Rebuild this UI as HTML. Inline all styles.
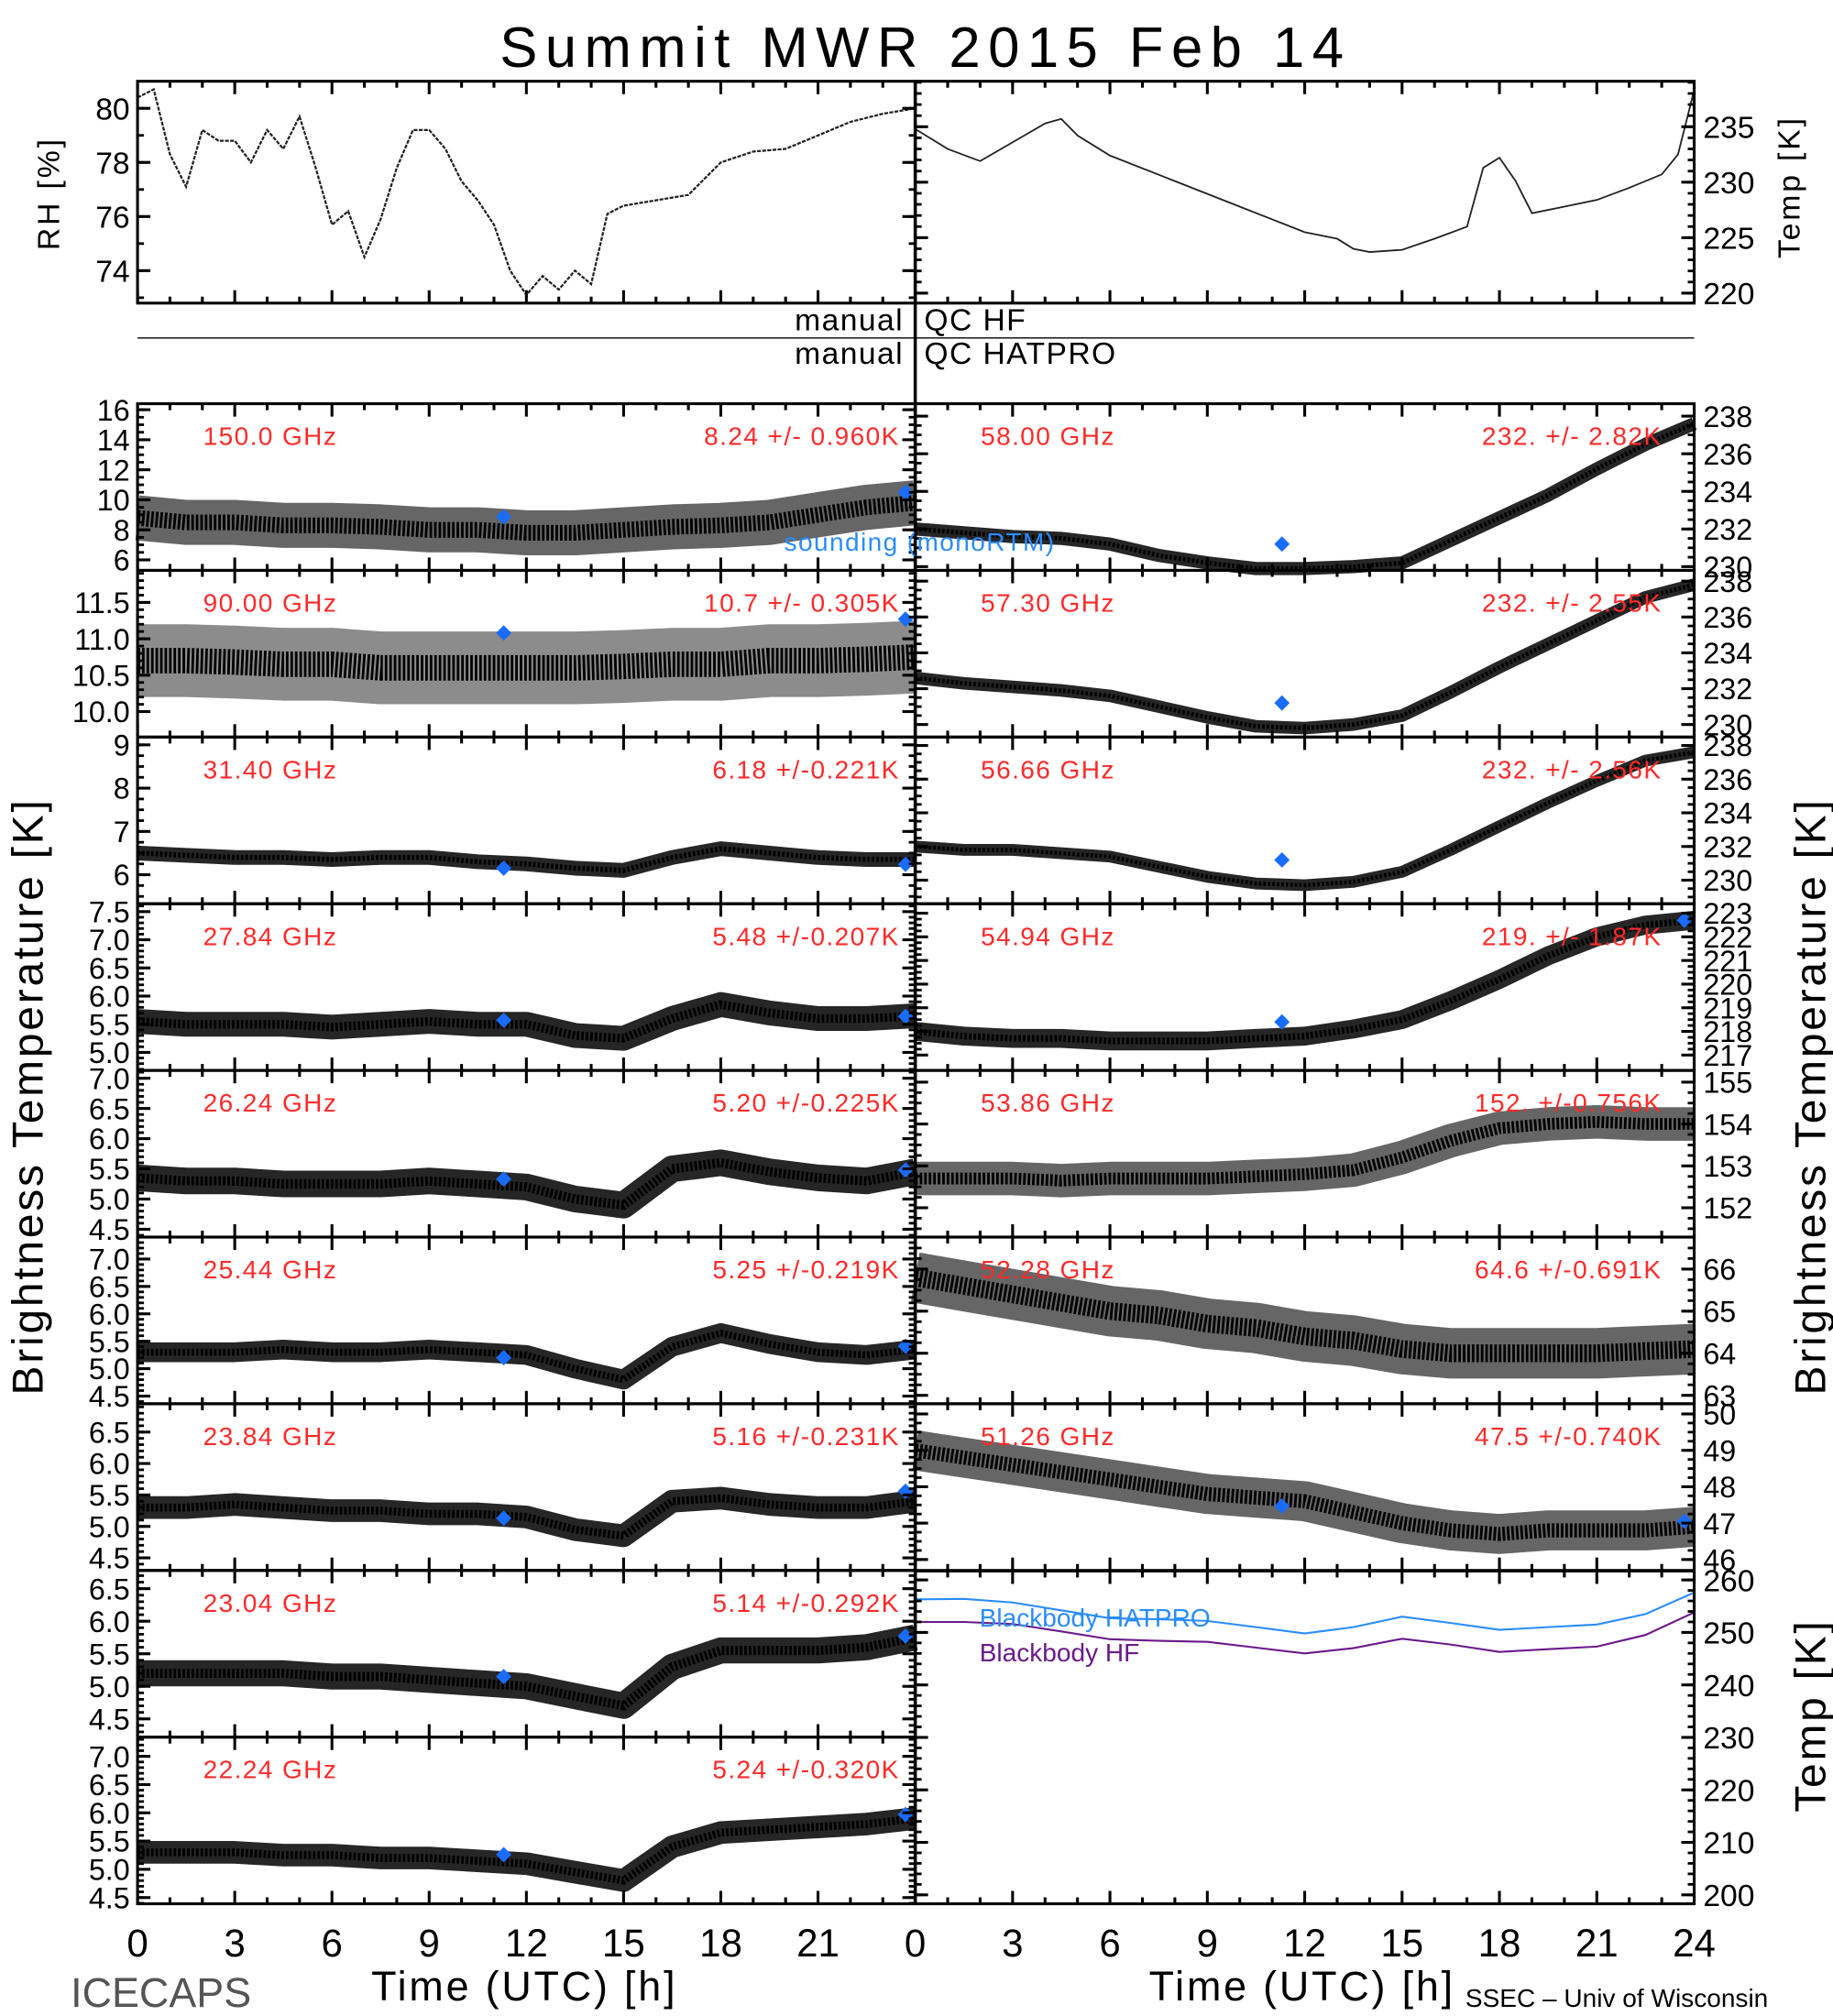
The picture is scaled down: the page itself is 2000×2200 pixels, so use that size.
<!DOCTYPE html>
<html><head><meta charset="utf-8">
<style>
html,body{margin:0;padding:0;background:#fff;}
svg{display:block;}
text{font-family:"Liberation Sans","DejaVu Sans",sans-serif;}
</style></head>
<body>
<svg id="chart" xmlns="http://www.w3.org/2000/svg" width="2000" height="2200" viewBox="0 0 1426 1563" preserveAspectRatio="none">
<rect x="0" y="0" width="1426" height="1563" fill="#fff"/>
<text x="720" y="52" font-size="44" text-anchor="middle" letter-spacing="6">Summit  MWR  2015  Feb  14</text>
<g id="g"></g>
</svg>
<script>
// ---------- data ----------
const hours = [0,1.5,3,4.5,6,7.5,9,10.5,12,13.5,15,16.5,18,19.5,21,22.5,24];
const rhHours = [0,0.5,1,1.5,2,2.5,3,3.5,4,4.5,5,5.5,6,6.5,7,7.5,8,8.5,9,9.5,10,10.5,11,11.5,12,12.5,13,13.5,14,14.5,15,16,17,18,19,20,21,22,23,24];
const rhValues = [80.4,80.7,78.3,77.1,79.2,78.8,78.8,78.0,79.2,78.5,79.7,77.8,75.7,76.2,74.5,75.9,77.8,79.2,79.2,78.5,77.3,76.6,75.7,74.0,73.1,73.8,73.3,74.0,73.5,76.1,76.4,76.6,76.8,78.0,78.4,78.5,79.0,79.5,79.8,80.0];
const tempHours = [0,1,2,3,4,4.5,5,6,8,10,12,13,13.5,14,15,16,17,17.5,18,18.5,19,20,21,22,23,23.5,24];
const tempValues = [234.8,233.0,231.9,233.6,235.3,235.7,234.2,232.4,230.1,227.8,225.5,224.9,224.0,223.7,223.9,224.9,226.0,231.3,232.2,230.1,227.2,227.8,228.4,229.5,230.7,232.5,238.3];

const tb150 = [8.8,8.5,8.5,8.3,8.3,8.2,8.0,8.0,7.8,7.8,8.0,8.2,8.3,8.5,9.0,9.5,9.8];
const tb90 = [10.7,10.7,10.68,10.65,10.65,10.6,10.6,10.6,10.6,10.6,10.62,10.65,10.65,10.7,10.7,10.72,10.75];
const tb314 = [6.5,6.45,6.4,6.4,6.35,6.4,6.4,6.3,6.25,6.15,6.1,6.4,6.6,6.5,6.4,6.35,6.35];
const tb2784 = [5.55,5.5,5.5,5.5,5.45,5.5,5.55,5.5,5.5,5.3,5.25,5.6,5.85,5.7,5.6,5.6,5.65];
const tb2624 = [5.35,5.3,5.3,5.25,5.25,5.25,5.3,5.25,5.2,5.0,4.9,5.5,5.6,5.45,5.35,5.3,5.45];
const tb2544 = [5.3,5.3,5.3,5.35,5.3,5.3,5.35,5.3,5.25,5.0,4.8,5.4,5.65,5.45,5.3,5.25,5.35];
const tb2384 = [5.3,5.3,5.35,5.3,5.25,5.25,5.2,5.2,5.15,4.95,4.85,5.4,5.45,5.35,5.3,5.3,5.4];
const tb2304 = [5.2,5.2,5.2,5.2,5.15,5.15,5.1,5.05,5.0,4.85,4.7,5.3,5.55,5.55,5.55,5.6,5.75];
const tb2224 = [5.3,5.3,5.3,5.25,5.25,5.2,5.2,5.15,5.1,4.95,4.8,5.4,5.65,5.7,5.75,5.8,5.9];
const tb5800 = [232,231.8,231.6,231.5,231.2,230.6,230.2,229.9,229.9,230,230.2,231.4,232.6,233.8,235.2,236.5,237.6];
const tb5730 = [232.6,232.3,232.1,231.9,231.6,231.0,230.4,229.9,229.8,230.0,230.5,231.8,233.2,234.5,235.8,237.1,237.8];
const tb5666 = [232.0,231.8,231.8,231.6,231.4,230.8,230.2,229.8,229.7,229.9,230.5,231.8,233.2,234.6,235.9,237.1,237.6];
const tb5494 = [218,217.8,217.7,217.7,217.6,217.6,217.6,217.7,217.8,218.1,218.5,219.3,220.2,221.2,222.0,222.5,222.7];
const tb5386 = [152.7,152.7,152.7,152.65,152.7,152.7,152.7,152.75,152.8,152.9,153.2,153.6,153.9,154.0,154.05,154.0,154.0];
const tb5228 = [65.8,65.6,65.4,65.2,65.0,64.9,64.7,64.6,64.4,64.3,64.1,64.0,64.0,64.0,64.0,64.05,64.1];
const tb5126 = [49.0,48.8,48.6,48.4,48.2,48.0,47.8,47.7,47.6,47.3,47.0,46.8,46.7,46.8,46.8,46.8,46.9];
const bbHatpro = [256.3,256.4,255.7,254.2,252.7,252.5,252.2,251,249.8,251,253,251.8,250.5,251,251.5,253.5,257.6];
const bbHF = [252,252,251.6,250.2,248.7,248.4,248.2,247.1,246.0,247,248.8,247.7,246.3,246.8,247.3,249.5,253.8];

const sondeHours = [11.3, 23.7];
const sonde150 = [8.87,10.5], sonde90=[11.08,11.27], sonde314=[6.15,6.24], sonde2784=[5.57,5.64],
      sonde2624=[5.33,5.48], sonde2544=[5.2,5.41], sonde2384=[5.13,5.56], sonde2304=[5.15,5.77],
      sonde2224=[5.26,5.97], sonde5800=[231.2,null], sonde5730=[231.2,null], sonde5666=[231.2,null],
      sonde5494=[218.4,222.7], sonde5126=[47.47,47.05];

const freqLabels = ["150.0 GHz","90.00 GHz","31.40 GHz","27.84 GHz","26.24 GHz","25.44 GHz","23.84 GHz","23.04 GHz","22.24 GHz"];
const statLabels = ["8.24 +/- 0.960K","10.7 +/- 0.305K","6.18 +/-0.221K","5.48 +/-0.207K","5.20 +/-0.225K","5.25 +/-0.219K","5.16 +/-0.231K","5.14 +/-0.292K","5.24 +/-0.320K"];
const freqLabelsR = ["58.00 GHz","57.30 GHz","56.66 GHz","54.94 GHz","53.86 GHz","52.28 GHz","51.26 GHz"];
const statLabelsR = ["232. +/- 2.82K","232. +/- 2.55K","232. +/- 2.56K","219. +/- 1.87K","152. +/-0.756K","64.6 +/-0.691K","47.5 +/-0.740K"];
const xTickLabels = ["0","3","6","9","12","15","18","21"];
const xTickLabelsR = ["0","3","6","9","12","15","18","21","24"];

// ---------- layout ----------
const NS="http://www.w3.org/2000/svg";
const G=document.getElementById('g');
function el(tag,attrs,parent){const e=document.createElementNS(NS,tag);for(const k in attrs)e.setAttribute(k,attrs[k]);(parent||G).appendChild(e);return e;}
const LX0=107,LX1=712,RX0=712,RX1=1318;
const PT=313,PH=(1476-313)/9;
function xL(h){return LX0+h/24*(LX1-LX0);}
function xR(h){return RX0+h/24*(RX1-RX0);}
function yScale(top,bot,vmin,vmax){return v=>top+(vmax-v)/(vmax-vmin)*(bot-top);}

function frame(x0,x1,top,bot,name){
  const r=el('rect',{x:x0,y:top,width:x1-x0,height:bot-top,fill:'none',stroke:'#000','stroke-width':2.2});
  
  
  for(let h=0;h<=24;h++){
    const x=x0+h/24*(x1-x0), L=(h%3===0)?10:5;
    el('line',{x1:x,y1:bot,x2:x,y2:bot-L,stroke:'#000','stroke-width':2.2});
    el('line',{x1:x,y1:top,x2:x,y2:top+L,stroke:'#000','stroke-width':2.2});
  }
}
function yTicks(x0,x1,ys,ticks,minor,side,fs,labels){
  ticks.forEach((t,i)=>{
    const y=ys(t);
    el('line',{x1:x0,y1:y,x2:x0+10,y2:y,stroke:'#000','stroke-width':2.2});
    el('line',{x1:x1,y1:y,x2:x1-10,y2:y,stroke:'#000','stroke-width':2.2});
    if(labels){
      const tx=el('text',{x:side==='L'?x0-6:x1+7,y:y+fs*0.36,'font-size':fs,'text-anchor':side==='L'?'end':'start'});
      tx.textContent=labels[i];
      
      
    }
  });
  minor.forEach(t=>{
    const y=ys(t);
    el('line',{x1:x0,y1:y,x2:x0+5,y2:y,stroke:'#000','stroke-width':2});
    el('line',{x1:x1,y1:y,x2:x1-5,y2:y,stroke:'#000','stroke-width':2});
  });
}
function range(a,b,s){const r=[];for(let v=a;v<=b+1e-9;v+=s)r.push(+v.toFixed(4));return r;}

const leftPanels=[
 {d:tb150,s:sonde150,min:5.3,max:16.4,ticks:range(6,16,2),minor:range(6,16,0.5),dec:0,spread:1.5,op:0.6},
 {d:tb90,s:sonde90,min:9.65,max:11.94,ticks:range(10,11.5,0.5),minor:range(10,11.9,0.1),dec:1,spread:0.5,op:0.45},
 {d:tb314,s:sonde314,min:5.33,max:9.18,ticks:range(6,9,1),minor:range(5.5,9,0.25),dec:0,spread:0.17,op:0.85},
 {d:tb2784,s:sonde2784,min:4.68,max:7.64,ticks:range(5,7.5,0.5),minor:range(4.7,7.6,0.1),dec:1,spread:0.22,op:0.85},
 {d:tb2624,s:sonde2624,min:4.37,max:7.13,ticks:range(4.5,7,0.5),minor:range(4.4,7.1,0.1),dec:1,spread:0.22,op:0.85},
 {d:tb2544,s:sonde2544,min:4.36,max:7.40,ticks:range(4.5,7,0.5),minor:range(4.4,7.4,0.1),dec:1,spread:0.18,op:0.85},
 {d:tb2384,s:sonde2384,min:4.30,max:6.95,ticks:range(4.5,6.5,0.5),minor:range(4.3,6.9,0.1),dec:1,spread:0.18,op:0.85},
 {d:tb2304,s:sonde2304,min:4.22,max:6.78,ticks:range(4.5,6.5,0.5),minor:range(4.3,6.7,0.1),dec:1,spread:0.2,op:0.85},
 {d:tb2224,s:sonde2224,min:4.39,max:7.34,ticks:range(4.5,7,0.5),minor:range(4.4,7.3,0.1),dec:1,spread:0.2,op:0.85}
];
const rightPanels=[
 {d:tb5800,s:sonde5800,min:229.8,max:238.66,ticks:range(230,238,2),minor:range(230,238,0.5),dec:0,spread:0.35,op:0.85},
 {d:tb5730,s:sonde5730,min:229.3,max:238.6,ticks:range(230,238,2),minor:range(230,238,0.5),dec:0,spread:0.35,op:0.85},
 {d:tb5666,s:sonde5666,min:228.6,max:238.5,ticks:range(230,238,2),minor:range(229,238,0.5),dec:0,spread:0.35,op:0.85},
 {d:tb5494,s:sonde5494,min:216.35,max:223.4,ticks:range(217,223,1),minor:range(217,223,0.25),dec:0,spread:0.4,op:0.85},
 {d:tb5386,s:null,min:151.3,max:155.28,ticks:range(152,155,1),minor:range(151.5,155,0.25),dec:0,spread:0.4,op:0.6},
 {d:tb5228,s:null,min:62.8,max:66.76,ticks:range(63,66,1),minor:range(63,66.5,0.25),dec:0,spread:0.6,op:0.6},
 {d:tb5126,s:sonde5126,min:45.7,max:50.28,ticks:range(46,50,1),minor:range(46,50,0.25),dec:0,spread:0.55,op:0.6}
];

function band(xf,ys,data,spread,op,name){
  const pts=hours.map((h,i)=>xf(h).toFixed(1)+','+ys(data[i]).toFixed(1)).join(' ');
  const w=Math.abs(ys(0)-ys(spread*2));
  const p=el('polyline',{points:pts,fill:'none',stroke:'#000','stroke-width':w,'stroke-opacity':op,'stroke-linejoin':'round'});
  
  
  const p2=el('polyline',{points:pts,fill:'none',stroke:'#000','stroke-width':Math.max(1.5,w*0.35),'stroke-dasharray':'2 1.5'});
  
  
}
function sondes(xf,ys,vals,name){
  if(!vals)return;
  sondeHours.forEach((h,i)=>{
    if(vals[i]==null)return;
    const x=xf(h),y=ys(vals[i]);
    const d=el('polygon',{points:`${x},${y-6} ${x+6},${y} ${x},${y+6} ${x-6},${y}`,fill:'#1a6cff'});
    
    
  });
}
function redText(x,y,t,anchor,name){
  const tx=el('text',{x:x,y:y,'font-size':20,fill:'#ff2a2a','text-anchor':anchor,'letter-spacing':'1'});
  tx.textContent=t;
  
  
}

leftPanels.forEach((p,i)=>{
  const top=PT+i*PH,bot=top+PH;
  const ys=yScale(top,bot,p.min,p.max);
  band(xL,ys,p.d,p.spread,p.op,'left-panel-'+i);
  sondes(xL,ys,p.s,'left-panel-'+i);
  frame(LX0,LX1,top,bot,'left-panel-'+i);
  yTicks(LX0,LX1,ys,p.ticks,p.minor,'L',23,p.ticks.map(t=>t.toFixed(p.dec)));
  redText(158,top+32,freqLabels[i],'start','freq-label');
  redText(700,top+32,statLabels[i],'end','stat-label');
});
rightPanels.forEach((p,i)=>{
  const top=PT+i*PH,bot=top+PH;
  const ys=yScale(top,bot,p.min,p.max);
  band(xR,ys,p.d,p.spread,p.op,'right-panel-'+i);
  sondes(xR,ys,p.s,'right-panel-'+i);
  frame(RX0,RX1,top,bot,'right-panel-'+i);
  yTicks(RX0,RX1,ys,p.ticks,p.minor,'R',23,p.ticks.map(t=>t.toFixed(p.dec)));
  redText(763,top+32,freqLabelsR[i],'start','freq-label');
  redText(1293,top+32,statLabelsR[i],'end','stat-label');
});

// blackbody panel
(function(){
  const top=1218,bot=1476;
  const ys=yScale(top,bot,198.3,261.7);
  const mk=(data,col,name)=>{
    const l=el('polyline',{points:hours.map((h,i)=>xR(h).toFixed(1)+','+ys(data[i]).toFixed(1)).join(' '),fill:'none',stroke:col,'stroke-width':1.5});
    
    
  };
  mk(bbHatpro,'#2a8cff','blackbody-hatpro-line');
  mk(bbHF,'#6a1a8a','blackbody-hf-line');
  frame(RX0,RX1,top,bot,'blackbody-panel');
  const t=range(200,260,10);
  yTicks(RX0,RX1,ys,t,range(200,260,2),'R',24,t.map(v=>v.toFixed(0)));
  const a=el('text',{x:762,y:1261,'font-size':20,fill:'#2a8cff'});a.textContent='Blackbody  HATPRO';
  
  
  const b=el('text',{x:762,y:1288,'font-size':20,fill:'#6a1a8a'});b.textContent='Blackbody  HF';
  
  
})();

// top RH and Temp panels
(function(){
  const top=63,bot=235;
  const ysRH=yScale(top,bot,72.8,81);
  const l=el('polyline',{points:rhHours.map((h,i)=>xL(h).toFixed(1)+','+ysRH(rhValues[i]).toFixed(1)).join(' '),fill:'none',stroke:'#222','stroke-width':1.6,'stroke-dasharray':'3 1'});
  
  
  frame(LX0,LX1,top,bot,'rh-panel');
  const t=[74,76,78,80];
  yTicks(LX0,LX1,ysRH,t,range(73,80,1),'L',24,t.map(String));
  const ysT=yScale(top,bot,219.1,239.1);
  const l2=el('polyline',{points:tempHours.map((h,i)=>xR(h).toFixed(1)+','+ysT(tempValues[i]).toFixed(1)).join(' '),fill:'none',stroke:'#222','stroke-width':1.3});
  
  
  frame(RX0,RX1,top,bot,'temp-panel');
  const t2=[220,225,230,235];
  yTicks(RX0,RX1,ysT,t2,range(220,239,1),'R',24,t2.map(String));
})();

// divider lines and QC text
el('line',{x1:107,y1:262,x2:1318,y2:262,stroke:'#000','stroke-width':1});
el('line',{x1:712,y1:63,x2:712,y2:1476,stroke:'#000','stroke-width':2.5});
[['manual','QC  HF',256],['manual','QC  HATPRO',282]].forEach(r=>{
  const a=el('text',{x:703,y:r[2],'font-size':24,'text-anchor':'end','letter-spacing':'1'});a.textContent=r[0];
  
  
  const b=el('text',{x:719,y:r[2],'font-size':24,'letter-spacing':'1'});b.textContent=r[1];
  
  
});
const snd=el('text',{x:610,y:427,'font-size':20,fill:'#2a8cff','letter-spacing':'1'});snd.textContent='sounding  (monoRTM)';



// x tick labels
xTickLabels.forEach((s,i)=>{
  const t=el('text',{x:xL(i*3),y:1517,'font-size':30,'text-anchor':'middle'});t.textContent=s;
  
  
});
xTickLabelsR.forEach((s,i)=>{
  const t=el('text',{x:xR(i*3),y:1517,'font-size':30,'text-anchor':'middle'});t.textContent=s;
  
  
});
[[408,'x-axis-title-left'],[1013,'x-axis-title-right']].forEach(r=>{
  const t=el('text',{x:r[0],y:1551,'font-size':32,'text-anchor':'middle','letter-spacing':'2'});t.textContent='Time (UTC) [h]';
  
  
});
const ic=el('text',{x:55,y:1556,'font-size':32,fill:'#555'});ic.textContent='ICECAPS';


const ss=el('text',{x:1140,y:1556,'font-size':20});ss.textContent='SSEC  \u2013  Univ of Wisconsin';



// rotated axis titles
function rot(x,y,txt,fs,name){
  const t=el('text',{x:x,y:y,'font-size':fs,'text-anchor':'middle',transform:`rotate(-90 ${x} ${y})`,'letter-spacing':'2'});
  t.textContent=txt;
  
  
}
rot(46,150,'RH [%]',24,'rh-axis-title');
rot(1400,145,'Temp [K]',24,'temp-axis-title');
rot(33,850,'Brightness Temperature [K]',34,'tb-axis-title-left');
rot(1420,850,'Brightness Temperature [K]',34,'tb-axis-title-right');
rot(1420,1330,'Temp [K]',34,'blackbody-temp-axis-title');
</script>
</body></html>
